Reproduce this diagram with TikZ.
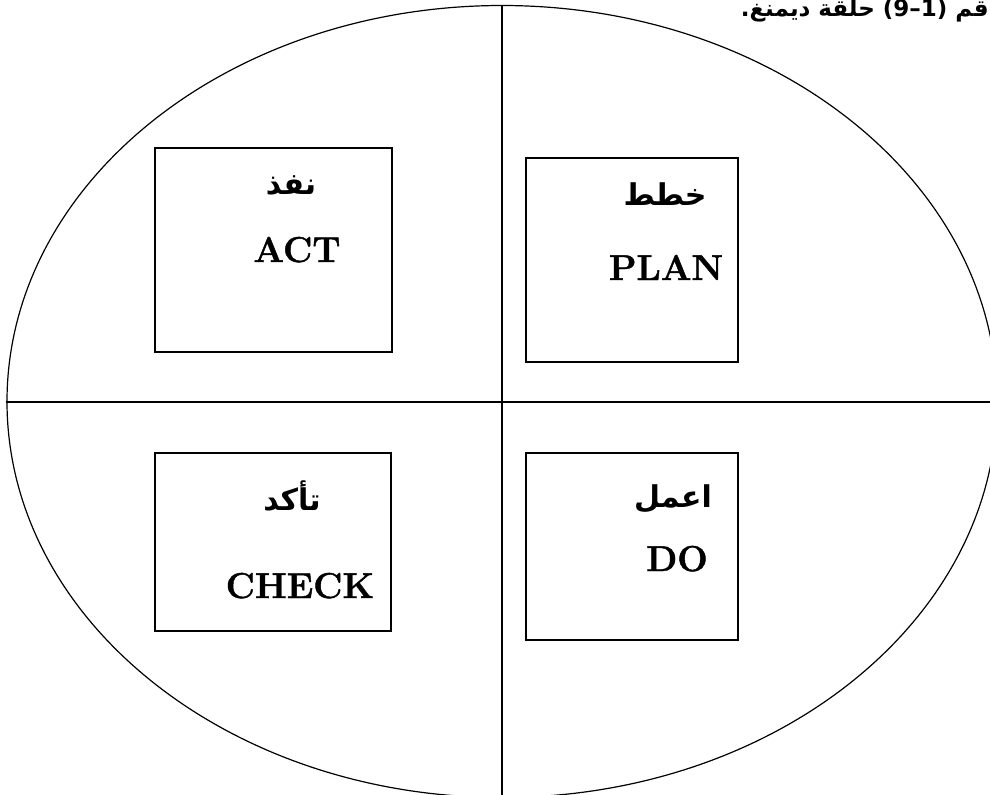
\documentclass[tikz,border=0pt]{standalone}
\usepackage{fontspec}
\setmainfont{Latin Modern Roman}[BoldFeatures={FakeBold=1.2}]
\usepackage{tikz}
\usetikzlibrary{positioning}
\TeXXeTstate=1
\newfontfamily\arabicfont[Script=Arabic]{DejaVu Sans}

\begin{document}
\begin{tikzpicture}[x=0.5pt, y=-0.5pt,
    stagebox/.style={draw, rectangle, line width=0.8pt, inner sep=0pt, anchor=north west},
    arlabel/.style={font=\arabicfont\bfseries\fontsize{15}{17}\selectfont, inner sep=0pt},
    enlabel/.style={font=\bfseries\fontsize{18}{21}\selectfont, inner sep=0pt, anchor=base},
    cycle/.style={line width=0.6pt},
]
\useasboundingbox (0,0) rectangle (990,794);
\clip (0,0) rectangle (990,794);

% Caption (cut off at the right edge)
\node[font=\arabicfont\bfseries\fontsize{11.5}{13}\selectfont, anchor=base east, inner sep=0pt] (caption) at (989,16)
  {\beginR قم \beginL(1–9)\endL{} حلقة ديمنغ.\endR};

% Circle and quadrants
\draw[cycle] (502,401.5) ellipse [x radius=495, y radius=396];
\coordinate (top) at (502,5);
\coordinate (bottom) at (502,800);
\coordinate (left) at (6,402);
\coordinate (right) at (1000,402);
\draw[cycle] (top) -- (bottom);
\draw[cycle] (left) -- (right);

% Boxes
\node[stagebox, minimum width=118.5pt, minimum height=102pt] (actbox) at (154,147) {};
\node[stagebox, minimum width=106pt, minimum height=102pt] (planbox) at (525,157) {};
\node[stagebox, minimum width=118pt, minimum height=89pt] (checkbox) at (154,452) {};
\node[stagebox, minimum width=106pt, minimum height=93.5pt] (dobox) at (525,452) {};

% Labels
\node[arlabel] (actar) at (291,185) {\beginR نفذ\endR};
\node[enlabel] (acten) at (297,262) {ACT};
\node[arlabel] (planar) at (665,194) {\beginR خطط\endR};
\node[enlabel] (planen) at (666,280) {PLAN};
\node[arlabel] (checkar) at (292,496) {\beginR تأكد\endR};
\node[enlabel] (checken) at (300,598) {CHECK};
\node[arlabel] (doar) at (673,499) {\beginR اعمل\endR};
\node[enlabel] (doen) at (677,571) {DO};

\end{tikzpicture}
\end{document}
